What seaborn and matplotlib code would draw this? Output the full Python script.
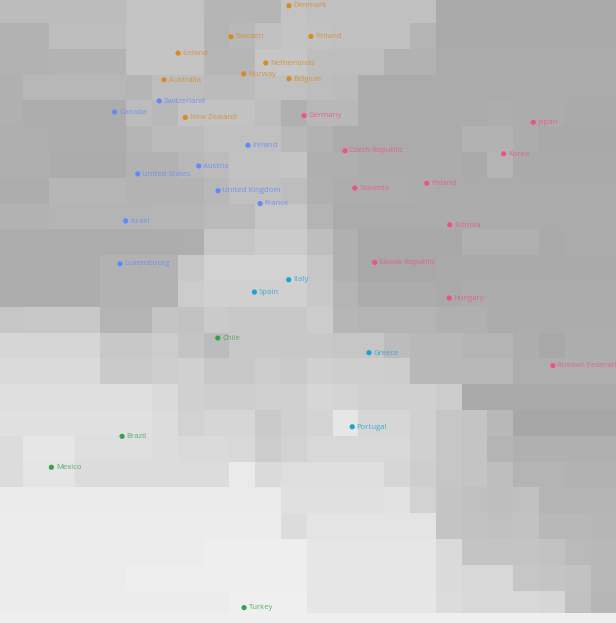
import numpy as np
import pandas as pd
import matplotlib
matplotlib.use("Agg")
import matplotlib.pyplot as plt
from matplotlib.colors import LinearSegmentedColormap
from matplotlib.patches import Rectangle
import seaborn as sns

# ---- background map tones (grey level 0-255), 24 x 24 cells ----
tones_top = [
    [188,188,188,188,188,195,195,195,181,181,181,195,192,192,192,192,192,170,170,170,170,170,170,170],
    [178,178,190,190,190,196,196,196,180,184,192,196,194,192,192,192,180,170,170,170,170,170,170,170],
    [178,178,179,179,179,196,196,196,182,182,198,198,190,189,189,178,178,171,171,171,171,171,171,171],
    [176,183,183,183,183,181,189,189,187,187,192,192,189,187,171,171,171,171,171,171,171,171,171,171],
    [176,173,173,173,173,188,184,194,194,194,189,176,184,184,172,172,172,172,172,173,172,172,170,170],
    [174,174,173,173,173,180,187,187,192,192,192,184,178,171,171,171,171,171,178,178,172,169,169,169],
    [175,175,172,172,172,178,178,184,188,194,194,196,175,175,172,172,172,172,170,180,170,170,170,170],
    [173,173,182,182,182,179,179,179,184,192,192,189,176,173,173,173,172,171,171,171,171,171,171,171],
    [178,178,180,180,180,180,182,182,186,186,198,198,180,171,171,171,171,172,172,171,171,171,171,171],
    [173,173,173,173,173,173,173,174,198,198,203,203,190,176,168,168,168,168,176,176,176,170,172,172],
    [173,173,173,173,178,178,178,200,210,210,210,210,198,176,168,168,168,170,170,170,170,170,170,170],
    [173,173,173,173,178,178,178,204,208,208,208,208,200,180,172,172,172,170,172,172,172,172,172,172],
]
tones_bottom = [
    [198,200,200,200,180,180,196,194,202,200,200,200,204,182,180,180,180,176,176,172,172,172,172,172],
    [214,214,214,214,200,200,204,196,188,200,200,200,200,198,198,188,184,184,180,180,173,168,173,173],
    [218,218,218,218,202,202,206,208,200,200,204,202,208,206,206,204,184,184,184,184,174,174,174,174],
    [222,222,222,222,222,222,218,208,206,206,208,208,214,212,208,208,208,204,170,170,170,170,170,170],
    [224,224,224,224,224,224,220,210,214,214,202,208,212,230,214,214,208,198,196,184,167,167,167,167],
    [220,230,230,222,222,222,220,218,218,216,204,210,216,216,216,216,208,198,196,180,176,176,176,176],
    [220,228,228,220,220,220,220,220,220,234,218,222,222,222,222,214,206,198,196,190,180,180,178,178],
    [234,234,234,234,234,234,234,234,234,234,234,224,224,224,224,226,210,196,192,190,192,180,180,180],
    [236,236,236,236,236,236,236,236,236,236,236,220,228,228,228,228,228,196,194,192,194,184,184,182],
    [236,236,236,236,236,236,236,236,238,238,238,238,230,230,230,230,230,218,196,196,196,194,186,184],
    [236,236,236,236,236,238,238,238,238,238,238,238,230,230,230,230,230,218,216,216,198,196,194,184],
    [236,236,236,236,236,236,236,236,236,239,239,239,230,230,230,230,230,220,216,216,216,214,192,182],
]

# ---- countries on the map (grid units) ----
countries = ["Denmark", "Sweden", "Finland", "Iceland", "Netherlands", "Australia",
             "Norway", "Belgium", "New Zealand",
             "Switzerland", "Canada", "Ireland", "Austria", "United States",
             "United Kingdom", "France", "Israel", "Luxembourg",
             "Germany", "Japan", "Czech Republic", "Korea", "Slovenia", "Poland",
             "Estonia", "Slovak Republic", "Hungary", "Russian Federation",
             "Italy", "Spain", "Greece", "Portugal",
             "Chile", "Brazil", "Mexico", "Turkey"]
map_x = [11.31, 9.06, 12.16, 7.01, 10.41, 6.47, 9.55, 11.31, 7.29,
         6.28, 4.55, 9.72, 7.81, 5.45, 8.56, 10.19, 4.98, 4.76,
         11.89, 20.78, 13.48, 19.63, 13.86, 16.65, 17.54, 14.63, 17.52, 21.54,
         11.30, 9.97, 14.41, 13.76,
         8.55, 4.84, 2.10, 9.57]
map_y = [0.33, 1.53, 1.52, 2.17, 2.55, 3.20, 2.97, 3.16, 4.66,
         4.02, 4.45, 5.74, 6.54, 6.85, 7.50, 8.00, 8.67, 10.33,
         4.59, 4.85, 5.95, 6.07, 7.40, 7.21, 8.82, 10.28, 11.66, 14.28,
         10.95, 11.43, 13.78, 16.65,
         13.21, 17.02, 18.22, 23.66]
cluster = (["A"] * 9 + ["B"] * 9 + ["C"] * 10 + ["D"] * 4 + ["E"] * 4)
cluster_colors = {"A": "#d98a22", "B": "#6088ff", "C": "#f0508c",
                  "D": "#1aa2d2", "E": "#35a24a"}

sns.set_theme(style="white")
plt.rcParams["font.family"] = ["Open Sans", "DejaVu Sans"]

W, H, DPI = 616, 623, 100
fig = plt.figure(figsize=(W / DPI, H / DPI), dpi=DPI, facecolor="#efefef")
cell = 25.8
origin = -2.8
ax = fig.add_axes([origin / W, (H - (origin + 24 * cell)) / H,
                   24 * cell / W, 24 * cell / H])

grid = pd.DataFrame(tones_top + tones_bottom)
grey = LinearSegmentedColormap.from_list("g", ["#000000", "#ffffff"])
sns.heatmap(grid, ax=ax, cmap=grey, vmin=0, vmax=255, cbar=False,
            xticklabels=False, yticklabels=False, linewidths=0)

df = pd.DataFrame({"country": countries, "x": map_x, "y": map_y, "cluster": cluster})
sns.scatterplot(data=df, x="x", y="y", hue="cluster", palette=cluster_colors,
                s=14, linewidth=0, legend=False, ax=ax, zorder=3)
for _, r in df.iterrows():
    ax.annotate(r["country"], (r["x"], r["y"]), xytext=(3.2, -0.2),
                textcoords="offset points", va="center", ha="left",
                fontsize=5.6, color=cluster_colors[r["cluster"]], alpha=0.8,
                zorder=4)

ax.set_xlim(0, 24)
ax.set_ylim(24, 0)
ax.set_xlabel("")
ax.set_ylabel("")
ax.set_xticks([])
ax.set_yticks([])
for s in ax.spines.values():
    s.set_visible(False)

# light strip along the bottom edge
fig.add_artist(Rectangle((0, 0), 1, 10 / H, transform=fig.transFigure,
                         facecolor="#efefef", edgecolor="none", zorder=10))

fig.savefig("out.png", dpi=DPI, facecolor=fig.get_facecolor())
